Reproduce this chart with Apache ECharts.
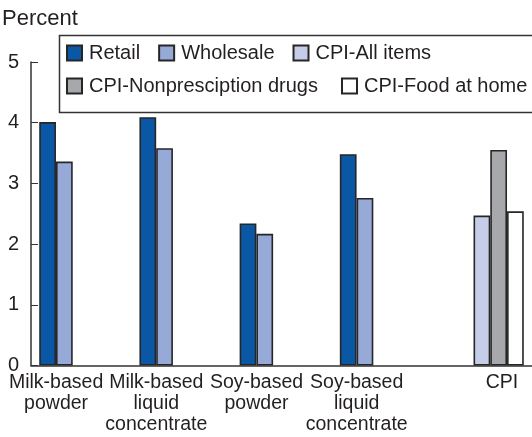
<!DOCTYPE html>
<html>
<head>
<meta charset="utf-8">
<script src="https://cdn.jsdelivr.net/npm/echarts@6/dist/echarts.min.js"></script>
<style>html,body{margin:0;padding:0;background:#fff;}#c{width:532px;height:437px;}</style>
</head>
<body>
<div id="c"></div>
<script>
const categories = ['Milk-based\npowder', 'Milk-based\nliquid\nconcentrate', 'Soy-based\npowder', 'Soy-based\nliquid\nconcentrate', 'CPI'];
const seriesNames = ['Retail', 'Wholesale', 'CPI-All items', 'CPI-Nonpresciption drugs', 'CPI-Food at home'];
const retail = [4.01, 4.09, 2.34, 3.48, null];
const wholesale = [3.36, 3.58, 2.17, 2.76, null];
const cpiAllItems = [null, null, null, null, 2.47];
const cpiNonRx = [null, null, null, null, 3.55];
const cpiFoodAtHome = [null, null, null, null, 2.54];
const yTicks = [0, 1, 2, 3, 4, 5];

const colors = ['#0a57a6', '#97a9d6', '#c6cde8', '#a6a8ab', '#ffffff'];
const values = [retail, wholesale, cpiAllItems, cpiNonRx, cpiFoodAtHome];
const FONT = "'Liberation Sans', Arial, sans-serif";
const INK = '#231f20';

const chart = echarts.init(document.getElementById('c'), null, {renderer: 'canvas'});
const legendText = {fontSize: 20, color: INK, fontFamily: FONT, padding: [0, 0, 0, 2]};
const option = {
  animation: false,
  backgroundColor: '#fff',
  textStyle: {fontFamily: FONT, color: INK},
  title: {text: 'Percent', left: 2, top: 8, padding: 0, textStyle: {fontSize: 22, fontWeight: 'normal', color: INK, fontFamily: FONT}},
  legend: [
    {data: seriesNames.slice(0, 3), left: 66, top: 43, padding: 0, width: 600, itemWidth: 15, itemHeight: 15, itemGap: 18,
     icon: 'rect', textStyle: legendText, selectedMode: false},
    {data: seriesNames.slice(3), left: 66, top: 76, padding: 0, width: 600, itemWidth: 15, itemHeight: 15, itemGap: 23,
     icon: 'rect', textStyle: legendText, selectedMode: false}
  ],
  graphic: [{
    type: 'rect', left: 57, top: 33, z: 0,
    shape: {width: 500, height: 77},
    style: {fill: 'none', stroke: '#333', lineWidth: 1.5}
  }],
  grid: {left: 31, right: -3.5, top: 62, bottom: 71.5, containLabel: false},
  xAxis: {
    type: 'category',
    data: categories,
    axisLine: {lineStyle: {color: '#333', width: 1.5}},
    axisTick: {show: false},
    axisLabel: {
      interval: 0, margin: 7,
      formatter: function (v, i) {
        const key = i === 4 ? 'c' : 'a';
        return v.split('\n').map(s => '{' + key + '|' + s + '}').join('\n');
      },
      rich: {
        a: {fontSize: 19.5, lineHeight: 21, color: INK, fontFamily: FONT, padding: [0, 50, 0, 0]},
        c: {fontSize: 19.5, lineHeight: 21, color: INK, fontFamily: FONT, padding: [0, 0, 0, 40]}
      }
    }
  },
  yAxis: {
    type: 'value', min: 0, max: 5, interval: 1,
    axisLine: {show: true, lineStyle: {color: '#333', width: 1.5}},
    axisTick: {show: true, inside: true, length: 7, lineStyle: {color: '#333', width: 1}},
    splitLine: {show: false},
    axisLabel: {margin: 12, fontSize: 20, color: INK, fontFamily: FONT,
      formatter: v => yTicks.indexOf(v) >= 0 ? String(v) : ''}
  },
  series: seriesNames.map((name, k) => ({
    name: name,
    type: 'bar',
    data: values[k],
    barWidth: 16.75,
    barGap: '0%',
    itemStyle: {color: colors[k], borderColor: '#262626', borderWidth: 1.6}
  }))
};
chart.setOption(option);
</script>
</body>
</html>
